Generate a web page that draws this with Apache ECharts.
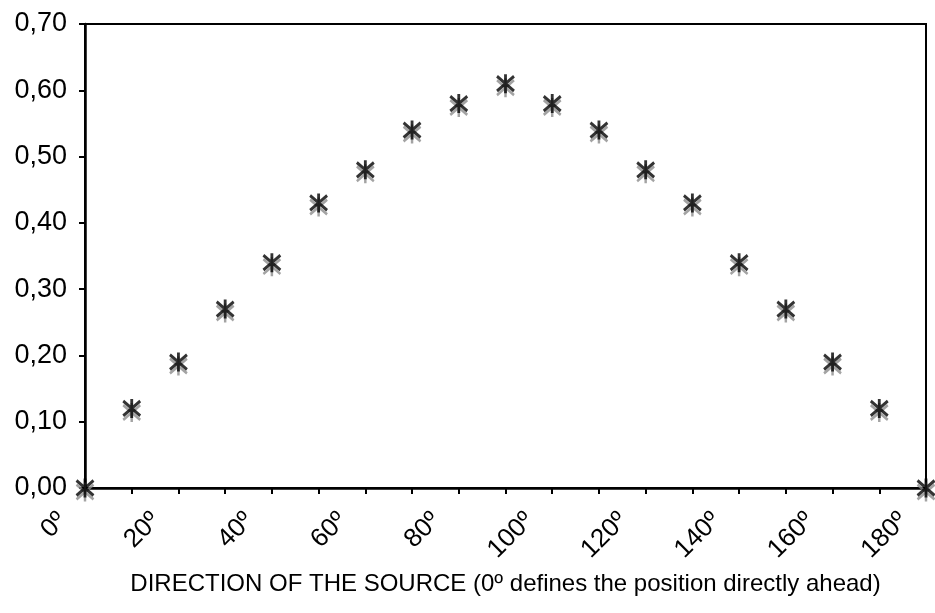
<!DOCTYPE html>
<html>
<head>
<meta charset="utf-8">
<script src="https://cdn.jsdelivr.net/npm/echarts@6/dist/echarts.min.js"></script>
<style>
  html, body { margin: 0; padding: 0; background: #fff; }
  #chart { width: 935px; height: 613px; }
</style>
</head>
<body>
<div id="chart"></div>
<script>
// direccion de la fuente (grados) y valor medido
const directions = ["0º", "10º", "20º", "30º", "40º", "50º", "60º", "70º", "80º", "90º",
  "100º", "110º", "120º", "130º", "140º", "150º", "160º", "170º", "180º"];
const values = [0.00, 0.12, 0.19, 0.27, 0.34, 0.43, 0.48, 0.54, 0.58, 0.61,
  0.58, 0.54, 0.48, 0.43, 0.34, 0.27, 0.19, 0.12, 0.00];
const yTicks = [0, 0.7, 0.1]; // min, max, interval
const xTitle = "DIRECTION OF THE SOURCE (0º defines the position directly ahead)";

const FONT = "Liberation Sans, Arial, sans-serif";
const star = "path://M8 0 L8 18 M1 2 L15 16 M1 16 L15 2";

const chart = echarts.init(document.getElementById("chart"));

chart.setOption({
  animation: false,
  grid: {
    left: 85, right: 9, top: 24, bottom: 125,
    show: true, borderColor: "#000", borderWidth: 2
  },
  xAxis: {
    type: "category",
    data: directions,
    boundaryGap: false,
    name: xTitle,
    nameLocation: "middle",
    nameGap: 84,
    nameTextStyle: { fontFamily: FONT, fontSize: 24, color: "#000" },
    axisLine: { lineStyle: { color: "#000", width: 2.5 } },
    axisTick: { interval: 0, length: 6, lineStyle: { color: "#000", width: 2 } },
    axisLabel: {
      interval: 1, rotate: 45, margin: 6,
      padding: [0, 32, 0, 0],
      fontFamily: FONT, fontSize: 26, color: "#000"
    },
    splitLine: { show: false }
  },
  yAxis: {
    type: "value",
    min: yTicks[0], max: yTicks[1], interval: yTicks[2],
    axisLine: { show: true, lineStyle: { color: "#000", width: 2.5 } },
    axisTick: { show: true, length: 6, lineStyle: { color: "#000", width: 2 } },
    axisLabel: {
      margin: 18,
      fontFamily: FONT, fontSize: 27, color: "#000",
      formatter: (v) => v.toFixed(2).replace(".", ",")
    },
    splitLine: { show: false }
  },
  series: [
    {
      // sombra gris
      type: "scatter",
      data: values,
      clip: false,
      symbol: star,
      symbolSize: [17, 19],
      symbolOffset: [0, 4],
      itemStyle: { color: "none", borderColor: "#8c8c8c", borderWidth: 2.6 },
      emphasis: { disabled: true }
    },
    {
      type: "scatter",
      data: values,
      clip: false,
      symbol: star,
      symbolSize: [17, 19],
      itemStyle: { color: "none", borderColor: "#000", borderWidth: 3 },
      emphasis: { disabled: true }
    }
  ]
});
</script>
</body>
</html>
